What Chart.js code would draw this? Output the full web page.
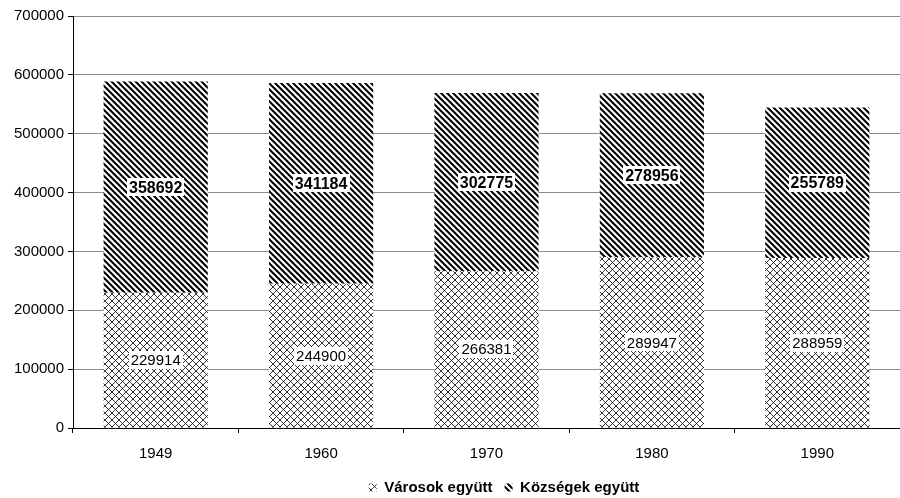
<!DOCTYPE html>
<html>
<head>
<meta charset="utf-8">
<script src="https://cdn.jsdelivr.net/npm/chart.js@4.4.1/dist/chart.umd.min.js"></script>
<style>
  html, body { margin: 0; padding: 0; background: #fff; }
  #wrap { width: 900px; height: 498px; }
</style>
</head>
<body>
<div id="wrap"><canvas id="chart"></canvas></div>
<script>
// adatok
var evek = ['1949', '1960', '1970', '1980', '1990'];
var varosok = [229914, 244900, 266381, 289947, 288959];
var kozsegek = [358692, 341184, 302775, 278956, 255789];
var sorozatNevek = ['Városok együtt', 'Községek együtt'];

var betu = '"Liberation Sans", Arial, sans-serif';

function mintaRacs() {
    var c = document.createElement('canvas');
    c.width = 7; c.height = 7;
    var g = c.getContext('2d');
    g.fillStyle = '#fff';
    g.fillRect(0, 0, 7, 7);
    g.strokeStyle = '#000';
    g.lineWidth = 0.8;
    g.beginPath();
    g.moveTo(0, 0); g.lineTo(7, 7);
    g.moveTo(7, 0); g.lineTo(0, 7);
    g.stroke();
    return g.createPattern(c, 'repeat');
}

function mintaCsikos() {
    var c = document.createElement('canvas');
    c.width = 6; c.height = 6;
    var g = c.getContext('2d');
    g.fillStyle = '#fff';
    g.fillRect(0, 0, 6, 6);
    g.strokeStyle = '#000';
    g.lineWidth = 2;
    g.beginPath();
    g.moveTo(-3, -3); g.lineTo(9, 9);
    g.moveTo(-3, 3); g.lineTo(3, 9);
    g.moveTo(3, -3); g.lineTo(9, 3);
    g.stroke();
    return g.createPattern(c, 'repeat');
}

var racs = mintaRacs();
var csikos = mintaCsikos();

// felirat plugin
var feliratok = {
    id: 'feliratok',
    afterDatasetsDraw: function (chart) {
        var ctx = chart.ctx;
        ctx.save();
        chart.data.datasets.forEach(function (ds, i) {
            var meta = chart.getDatasetMeta(i);
            ctx.font = (i == 1 ? 'bold 16px ' : '15px ') + betu;
            ctx.textAlign = 'center';
            ctx.textBaseline = 'middle';
            meta.data.forEach(function (bar, j) {
                var txt = String(ds.data[j]);
                var y = (bar.y + bar.base) / 2;
                var w = ctx.measureText(txt).width + 4;
                ctx.fillStyle = '#fff';
                ctx.fillRect(Math.round(bar.x - w / 2), Math.round(y - 9), Math.round(w), 18);
                ctx.fillStyle = '#000';
                ctx.fillText(txt, bar.x, y + 1);
            });
        });
        ctx.restore();
    }
};

// jelmagyarazat eltolasa
var legendEltol = {
    id: 'legendEltol',
    afterLayout: function (chart) {
        chart.legend.left += 54;
        chart.legend.right += 54;
        chart.legend.top += 7;
        chart.legend.bottom += 7;
    }
};

var chart = new Chart(document.getElementById('chart'), {
    type: 'bar',
    data: {
        labels: evek,
        datasets: [{
            label: sorozatNevek[0],
            data: varosok,
            backgroundColor: racs,
            borderWidth: 0
        }, {
            label: sorozatNevek[1],
            data: kozsegek,
            backgroundColor: csikos,
            borderWidth: 0
        }]
    },
    options: {
        responsive: true,
        maintainAspectRatio: false,
        animation: false,
        layout: { padding: { top: 16, right: 0, left: 0, bottom: 0 } },
        datasets: { bar: { barPercentage: 0.63, categoryPercentage: 1 } },
        plugins: {
            tooltip: { enabled: false },
            legend: {
                position: 'bottom',
                labels: {
                    boxWidth: 8,
                    boxHeight: 8,
                    padding: 12,
                    color: '#000',
                    font: { family: betu, size: 15, weight: 'bold' }
                }
            }
        },
        scales: {
            x: {
                stacked: true,
                border: { color: '#000', width: 1 },
                grid: { display: true, drawOnChartArea: false, tickLength: 5, color: '#000' },
                ticks: { color: '#000', padding: 12, font: { family: betu, size: 15 } },
                afterFit: function (s) { s.height = 33; }
            },
            y: {
                stacked: true,
                min: 0,
                max: 700000,
                border: { color: '#000', width: 1 },
                grid: { color: '#8c8c8c', tickLength: 5, tickColor: '#000' },
                ticks: {
                    stepSize: 100000,
                    color: '#000',
                    padding: 4,
                    font: { family: betu, size: 15 },
                    callback: function (v) { return String(v); }
                },
                afterFit: function (s) { s.width = 73; }
            }
        }
    },
    plugins: [feliratok, legendEltol]
});
</script>
</body>
</html>
